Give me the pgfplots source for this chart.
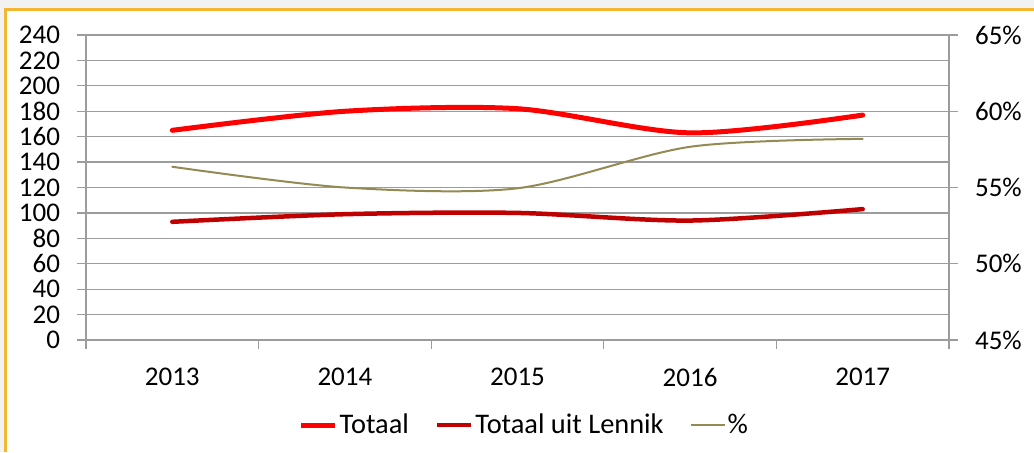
\documentclass[border=0pt]{standalone}
\usepackage{fontspec}
\setmainfont{Carlito}
\usepackage{pgfplots}
\pgfplotsset{compat=1.18}
\definecolor{totaal}{HTML}{FF0000}
\definecolor{lennik}{HTML}{C00000}
\definecolor{pct}{HTML}{948A54}
\definecolor{gridc}{HTML}{9C9C9C}
\definecolor{framec}{HTML}{F2B632}
\begin{document}
\begin{tikzpicture}[font=\fontsize{13.5}{16}\selectfont]
\useasboundingbox (0,0) rectangle (517pt,226pt);
\fill[black!5] (0,0) rectangle (517pt,226pt);
\fill[white] (2.5pt,0) rectangle (517pt,221.5pt);
\draw[framec, line width=1.5pt] (2.5pt,0) -- (2.5pt,221.5pt) -- (517pt,221.5pt);
\begin{axis}[
  at={(43pt,56pt)}, anchor=south west,
  scale only axis, width=431.5pt, height=152.5pt,
  xmin=-0.5, xmax=4.5, ymin=0, ymax=240,
  axis x line*=bottom, axis y line*=left,
  xtick={0,...,4}, xticklabels={2013,2014,2015,2016,2017},
  minor xtick={-0.5,0.5,...,4.5},
  ytick={0,20,...,240},
  ymajorgrids, grid style={gridc, line width=0.6pt},
  tick align=outside, major tick length=4.5pt, minor tick length=4.5pt,
  tick style={gridc, line width=0.6pt},
  major x tick style={draw=none},
  axis line style={gridc, line width=0.6pt},
  /pgf/number format/assume math mode=true,
  /pgf/number format/1000 sep={},
  yticklabel style={xshift=-5pt},
  xticklabel style={yshift=-6pt},
  legend style={at={(0.508,-0.279)}, anchor=center, draw=none, fill=none,
    legend columns=3, /tikz/every even column/.append style={column sep=12pt},
    nodes={inner sep=1pt}, font=\fontsize{14.2}{16}\selectfont},
  legend image code/.code={\draw[#1, line cap=butt] (0pt,0pt) -- (17pt,0pt);},
]
\addplot[totaal, line width=2.5pt, line cap=round, smooth] coordinates {(0,165)(1,180)(2,182)(3,163)(4,177)};
\addlegendentry{Totaal}
\addplot[lennik, line width=2.25pt, line cap=round, smooth] coordinates {(0,93)(1,99)(2,100)(3,94)(4,103)};
\addlegendentry{Totaal uit Lennik}
\addlegendimage{pct, line width=1pt}
\addlegendentry{\%}
\end{axis}
\begin{axis}[
  at={(43pt,56pt)}, anchor=south west,
  scale only axis, width=431.5pt, height=152.5pt,
  xmin=-0.5, xmax=4.5, ymin=45, ymax=65,
  axis x line=none, axis y line*=right,
  ytick={45,50,...,65},
  yticklabel={\pgfmathprintnumber{\tick}\%},
  tick align=outside, major tick length=4.5pt,
  tick style={gridc, line width=0.6pt},
  axis line style={gridc, line width=0.6pt},
  /pgf/number format/assume math mode=true,
  yticklabel style={xshift=5pt},
]
\addplot[pct, line width=1pt, line cap=round, smooth] coordinates {(0,56.36)(1,55.0)(2,54.95)(3,57.67)(4,58.19)};
\end{axis}
\end{tikzpicture}
\end{document}
